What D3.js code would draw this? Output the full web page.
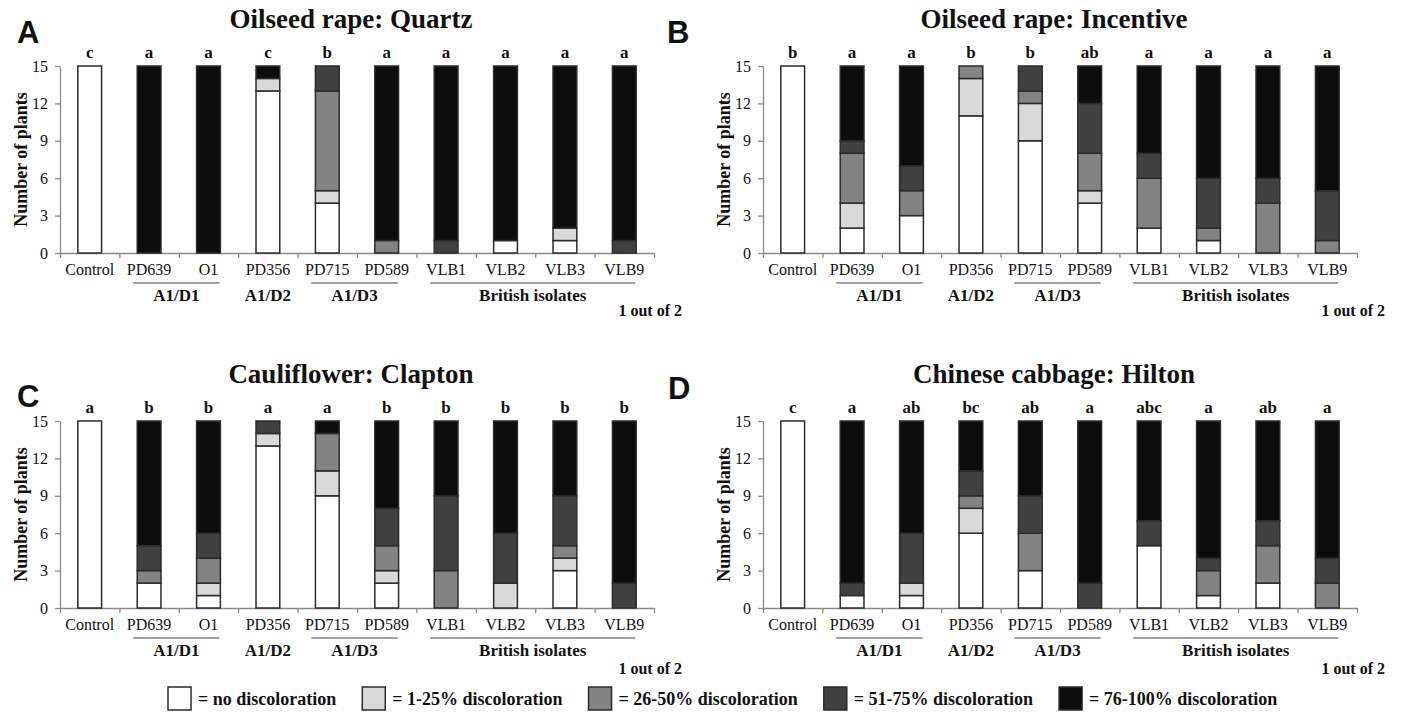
<!DOCTYPE html>
<html>
<head>
<meta charset="utf-8">
<script src="https://cdn.jsdelivr.net/npm/d3@7"></script>
<style>
  body { margin: 0; background: #fff; }
  svg { display: block; }
</style>
</head>
<body>
<svg id="chart" width="1410" height="723"></svg>
<script>
// categories and discoloration classes
const categories = ["Control", "PD639", "O1", "PD356", "PD715", "PD589", "VLB1", "VLB2", "VLB3", "VLB9"];
const classes = ["no discoloration", "1-25% discoloration", "26-50% discoloration", "51-75% discoloration", "76-100% discoloration"];
const classColors = ["#ffffff", "#d9d9d9", "#838383", "#404040", "#0c0c0c"];
const yTicks = [0, 3, 6, 9, 12, 15];

// number of plants per class (no, 1-25, 26-50, 51-75, 76-100), one row per category
const quartzCounts = [
  [15, 0, 0, 0, 0], [0, 0, 0, 0, 15], [0, 0, 0, 0, 15], [13, 1, 0, 0, 1], [4, 1, 8, 2, 0],
  [0, 0, 1, 0, 14], [0, 0, 0, 1, 14], [1, 0, 0, 0, 14], [1, 1, 0, 0, 13], [0, 0, 0, 1, 14]
];
const quartzLetters = ["c", "a", "a", "c", "b", "a", "a", "a", "a", "a"];

const incentiveCounts = [
  [15, 0, 0, 0, 0], [2, 2, 4, 1, 6], [3, 0, 2, 2, 8], [11, 3, 1, 0, 0], [9, 3, 1, 2, 0],
  [4, 1, 3, 4, 3], [2, 0, 4, 2, 7], [1, 0, 1, 4, 9], [0, 0, 4, 2, 9], [0, 0, 1, 4, 10]
];
const incentiveLetters = ["b", "a", "a", "b", "b", "ab", "a", "a", "a", "a"];

const claptonCounts = [
  [15, 0, 0, 0, 0], [2, 0, 1, 2, 10], [1, 1, 2, 2, 9], [13, 1, 0, 1, 0], [9, 2, 3, 0, 1],
  [2, 1, 2, 3, 7], [0, 0, 3, 6, 6], [0, 2, 0, 4, 9], [3, 1, 1, 4, 6], [0, 0, 0, 2, 13]
];
const claptonLetters = ["a", "b", "b", "a", "a", "b", "b", "b", "b", "b"];

const hiltonCounts = [
  [15, 0, 0, 0, 0], [1, 0, 0, 1, 13], [1, 1, 0, 4, 9], [6, 2, 1, 2, 4], [3, 0, 3, 3, 6],
  [0, 0, 0, 2, 13], [5, 0, 0, 2, 8], [1, 0, 2, 1, 11], [2, 0, 3, 2, 8], [0, 0, 2, 2, 11]
];
const hiltonLetters = ["c", "a", "ab", "bc", "ab", "a", "abc", "a", "ab", "a"];

// isolate groups under the axis
const groups = [
  { name: "A1/D1", first: "PD639", last: "O1", underline: true },
  { name: "A1/D2", first: "PD356", last: "PD356", underline: false },
  { name: "A1/D3", first: "PD715", last: "PD589", underline: true },
  { name: "British isolates", first: "VLB1", last: "VLB9", underline: true }
];

const panels = [
  { tag: "A", title: "Oilseed rape: Quartz", counts: quartzCounts, letters: quartzLetters, left: 60, top: 66, tagX: 17, tagY: 43, noteDy: 63 },
  { tag: "B", title: "Oilseed rape: Incentive", counts: incentiveCounts, letters: incentiveLetters, left: 763, top: 66, tagX: 667, tagY: 43, noteDy: 63 },
  { tag: "C", title: "Cauliflower: Clapton", counts: claptonCounts, letters: claptonLetters, left: 60, top: 421, tagX: 17, tagY: 407, noteDy: 66 },
  { tag: "D", title: "Chinese cabbage: Hilton", counts: hiltonCounts, letters: hiltonLetters, left: 763, top: 421, tagX: 668, tagY: 399, noteDy: 66 }
];

const serif = "'Liberation Serif', 'Times New Roman', serif";
const svg = d3.select("#chart").style("font-family", serif);
const plotW = 594, plotH = 187;
const axisColor = "#8a8a8a";

function label(sel, size, bold) {
  return sel.style("font-family", serif)
    .style("font-size", size + "px")
    .style("font-weight", bold ? "bold" : "normal")
    .attr("fill", "#111");
}

panels.forEach(p => {
  const g = svg.append("g");

  const x = d3.scaleBand()
    .domain(categories)
    .range([p.left, p.left + plotW])
    .paddingInner(0.6)
    .paddingOuter(0.3);
  const slots = d3.scaleLinear().domain([0, categories.length]).range([p.left, p.left + plotW]);
  const y = d3.scaleLinear().domain([0, 15]).range([p.top + plotH, p.top]);
  const color = d3.scaleOrdinal().domain(classes).range(classColors);

  // axes
  const xAxis = g.append("g")
    .attr("transform", `translate(0,${y(0)})`)
    .call(d3.axisBottom(slots).tickValues(d3.range(categories.length + 1)).tickSize(5).tickSizeOuter(0).tickFormat(""));
  xAxis.selectAll("path, line").attr("stroke", axisColor).attr("stroke-width", 1.3);

  const yAxis = g.append("g")
    .attr("transform", `translate(${p.left},0)`)
    .call(d3.axisLeft(y).tickValues(yTicks).tickSize(5).tickSizeOuter(0).tickPadding(7));
  yAxis.selectAll("path, line").attr("stroke", axisColor).attr("stroke-width", 1.3);
  yAxis.attr("font-family", null).attr("font-size", null);
  label(yAxis.selectAll("text"), 16, false);

  // stacked bars
  const rows = p.counts.map((c, i) => {
    const o = { cat: categories[i] };
    classes.forEach((k, j) => o[k] = c[j]);
    return o;
  });
  const series = d3.stack().keys(classes)(rows);
  g.selectAll("g.layer")
    .data(series)
    .join("g")
    .attr("class", "layer")
    .attr("fill", d => color(d.key))
    .selectAll("rect")
    .data(d => d.filter(s => s[1] > s[0]))
    .join("rect")
    .attr("x", d => x(d.data.cat))
    .attr("width", x.bandwidth())
    .attr("y", d => y(d[1]))
    .attr("height", d => y(d[0]) - y(d[1]))
    .attr("stroke", "#2b2b2b")
    .attr("stroke-width", 1.5);

  // significance letters
  label(g.selectAll("text.sig")
    .data(p.letters)
    .join("text")
    .attr("class", "sig")
    .attr("x", (d, i) => x(categories[i]) + x.bandwidth() / 2)
    .attr("y", y(15) - 8)
    .attr("text-anchor", "middle")
    .text(d => d), 17, true);

  // category labels
  label(g.selectAll("text.cat")
    .data(categories)
    .join("text")
    .attr("class", "cat")
    .attr("x", d => x(d) + x.bandwidth() / 2)
    .attr("y", y(0) + 22)
    .attr("text-anchor", "middle")
    .text(d => d), 16, false);

  // group lines and names
  groups.forEach(gr => {
    const x0 = x(gr.first) + x.bandwidth() / 2 - 16;
    const x1 = x(gr.last) + x.bandwidth() / 2 + 11;
    if (gr.underline) {
      g.append("line")
        .attr("x1", x0).attr("x2", x1)
        .attr("y1", y(0) + 30).attr("y2", y(0) + 30)
        .attr("stroke", "#444").attr("stroke-width", 1.2);
    }
    label(g.append("text")
      .attr("x", gr.underline ? (x0 + x1) / 2 : x(gr.first) + x.bandwidth() / 2)
      .attr("y", y(0) + 48)
      .attr("text-anchor", "middle")
      .text(gr.name), 17, true);
  });

  label(g.append("text")
    .attr("x", p.left + plotW + 28)
    .attr("y", y(0) + p.noteDy)
    .attr("text-anchor", "end")
    .text("1 out of 2"), 16, true);

  // y label
  label(g.append("text")
    .attr("transform", `translate(${p.left - 33},${(y(0) + y(15)) / 2}) rotate(-90)`)
    .attr("text-anchor", "middle")
    .text("Number of plants"), 18, true);

  // title and panel tag
  label(g.append("text")
    .attr("x", p.left + plotW / 2 - 6)
    .attr("y", p.top - 38)
    .attr("text-anchor", "middle")
    .text(p.title), 27, true);

  g.append("text")
    .attr("x", p.tagX)
    .attr("y", p.tagY)
    .attr("fill", "#111")
    .style("font-family", "'Liberation Sans', Arial, sans-serif")
    .style("font-size", "31px")
    .style("font-weight", "bold")
    .text(p.tag);
});

// legend
const legend = svg.append("g").attr("class", "legend");
let lx = 168;
classes.forEach((k, i) => {
  legend.append("rect")
    .attr("x", lx).attr("y", 687)
    .attr("width", 23).attr("height", 23)
    .attr("fill", classColors[i])
    .attr("stroke", "#2b2b2b").attr("stroke-width", 1.5);
  const t = label(legend.append("text")
    .attr("x", lx + 30).attr("y", 705)
    .text("= " + k), 18, true);
  lx += 30 + t.node().getComputedTextLength() + 26;
});
</script>
</body>
</html>
